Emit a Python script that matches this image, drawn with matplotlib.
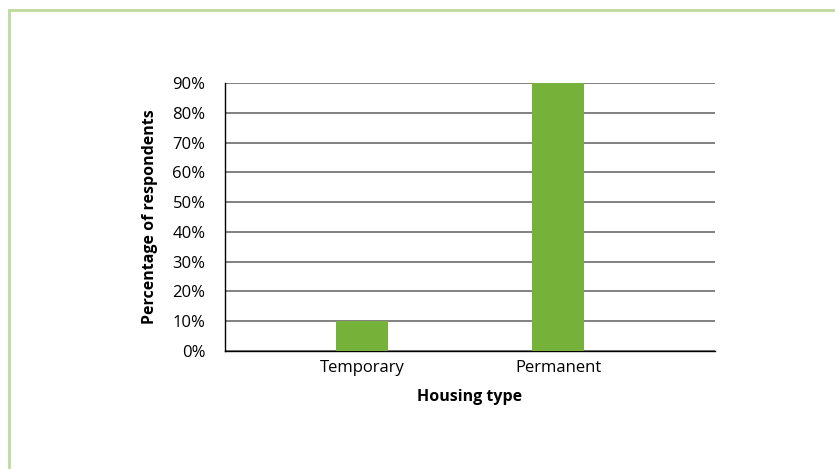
import matplotlib.pyplot as plt
from matplotlib.lines import Line2D
from matplotlib.ticker import PercentFormatter

plt.rcParams['font.family'] = ['Open Sans', 'DejaVu Sans']

housing = ['Temporary', 'Permanent']
share = [0.10, 0.90]
yticks = [0.0, 0.1, 0.2, 0.3, 0.4, 0.5, 0.6, 0.7, 0.8, 0.9]

fig = plt.figure(figsize=(8.35, 4.69), dpi=100)

# thin green frame at top and left of the card
fig.add_artist(Line2D([8.5 / 835, 8.5 / 835], [0, 1 - 10 / 469], transform=fig.transFigure,
                      color='#bedb9f', lw=2))
fig.add_artist(Line2D([8.5 / 835, 1], [1 - 10 / 469, 1 - 10 / 469], transform=fig.transFigure,
                      color='#bedb9f', lw=2))

ax = fig.add_axes([0.2695, 0.2516, 0.5868, 0.5714])
ax.bar(range(len(housing)), share, width=0.265, color='#76b13a', zorder=3)

ax.set_xlim(-0.7, 1.8)
ax.set_ylim(0, 0.9)
ax.set_yticks(yticks)
ax.yaxis.set_major_formatter(PercentFormatter(1.0, decimals=0))
ax.set_xticks(range(len(housing)))
ax.set_xticklabels(housing)
ax.tick_params(length=0, labelsize=12)
ax.tick_params(axis='y', pad=14)
ax.tick_params(axis='x', pad=6.5)
ax.grid(axis='y', color='#777777', lw=1.3, zorder=0)

for s in ['top', 'right']:
    ax.spines[s].set_visible(False)
ax.spines['left'].set_color('black')
ax.spines['bottom'].set_color('black')
ax.spines['left'].set_linewidth(1.0)
ax.spines['bottom'].set_linewidth(1.0)

ax.set_xlabel('Housing type', fontsize=11.5, fontweight='bold', labelpad=9)
ax.set_ylabel('Percentage of respondents', fontsize=11.5, fontweight='bold', labelpad=10.5)

fig.savefig('out.png', dpi=100)
